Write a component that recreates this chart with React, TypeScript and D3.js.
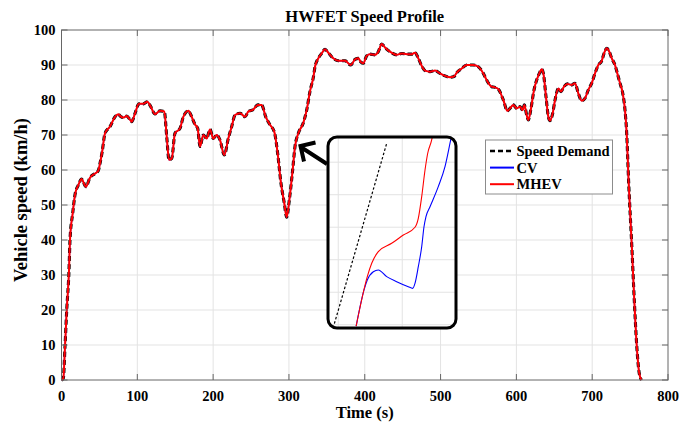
import React, { useEffect, useRef } from "react";
import * as d3 from "d3";

// HWFET speed profile (time s, speed km/h)
const timeS = [
  0, 2.4, 4.6, 6.9, 9.9, 11.2, 14.8, 17.8, 22.2, 26.6, 29, 32, 37.6, 44.2, 48.5, 50.8, 53.5, 57.4, 64,
  70.6, 74.9, 78, 81.5, 86, 90, 92.6, 97, 102.2, 108, 113.2, 117.7, 123.3, 130, 135.6, 138.8, 141.8,
  145.4, 149.7, 156.3, 160.7, 167.3, 171.7, 176.1, 179.6, 182.7, 187, 191.5, 195.9, 200.2, 204.7, 209,
  214.8, 220, 224.5, 228.9, 235.5, 242, 246.4, 253, 258.8, 264, 269.4, 275, 280.7, 285.1, 289.5, 293.9,
  297, 300.5, 304.9, 308, 312.4, 319, 323.4, 327.8, 332.2, 334.4, 338.7, 343.2, 347.6, 352, 358.5, 365.1,
  374, 381.5, 387.2, 391.5, 394.7, 398.1, 402.5, 406.9, 413.5, 417.9, 422.4, 426.7, 433.3, 442.2, 448.8,
  455.4, 462, 466.3, 470.7, 475.2, 479.5, 486.1, 492.7, 499.3, 505.9, 512.5, 517.7, 521.3, 527.9, 534.5,
  543.2, 549.8, 556.4, 560.8, 567.4, 571.8, 576.2, 582.8, 588.1, 591.6, 596, 600.4, 604.8, 608.3, 610.5,
  613.6, 615.8, 618.9, 623.3, 626.8, 630.3, 633.4, 635.6, 639.1, 642.2, 644.4, 647.9, 651, 655.4, 658.9,
  662.8, 667.2, 673, 677.3, 681.7, 686.2, 690.5, 694.9, 699.4, 703.7, 708.1, 712.6, 715.6, 719.2, 722.6,
  725.8, 730.1, 733.2, 736.7, 740.3, 743.3, 745.5, 748, 752.2, 755.6, 758.7, 762, 765,
];
const demandKmh = [
  0, 0.5, 9.5, 20, 31.4, 40, 47.7, 52.9, 55.7, 57.4, 56.5, 55.2, 57.8, 59, 59.8, 61.9, 65, 70.5, 72.4,
  75.2, 75.9, 75.3, 75, 75.4, 74.5, 73.8, 76.2, 78.9, 78.9, 79.5, 78.1, 76, 76.9, 76.7, 69.5, 62.9,
  63.3, 70.5, 71.9, 75.2, 76.9, 75.2, 73, 71.9, 66.7, 70, 69, 71.6, 69, 70, 68.6,
  64.3, 69, 72.4, 75.7, 76.2, 75.2, 76.7, 77.3, 78.6, 78.6, 75.2, 72.9, 70.9, 64.8, 56.2, 50.5,
  46.5, 51.4, 60, 66.7, 70.5, 73.5, 77.1, 82.5, 86.5, 89.5, 91.9, 93.3, 94.5, 93.5, 91.9, 91.2,
  91.2, 90, 91.6, 91.9, 90.9, 90.5, 92.6, 93.1, 92.9, 93.8, 96, 95, 93.8, 92.9, 93.3,
  93.1, 93.1, 93.5, 91.9, 89.7, 88.4, 88.1, 88.4, 87.6, 86.9, 86.5, 86.7, 87.8, 89, 90,
  90, 89.5, 87.6, 85.7, 83.8, 83.6, 83.1, 80, 76.9, 77.6, 78.6, 77.6, 78.1, 77.1, 78.6,
  75.7, 74.3, 77.1, 82.9, 85.7, 87.6, 88.8, 87.6, 80.9, 75.2, 74.1, 76.2, 80, 83.3, 82.4,
  83.8, 84.6, 84.3, 84.8, 81.9, 79.8, 80.5, 82.9, 84.8, 87.6, 90, 91.2, 93.3, 94.8, 93.8,
  91.9, 90, 87.6, 84.8, 81.9, 77.1, 70.5, 57, 38.5, 22.5, 10, 2, 0,
];
// at this scale the two vehicles follow the demand trace
const cvKmh = demandKmh;
const mhevKmh = demandKmh;

// zoomed detail shown in the inset
const insetDemandT = [300.92, 301.76];
const insetDemandV = [47.8, 59.2];
const insetCvT = [301.28, 301.403, 301.454, 301.548, 301.626, 301.757, 301.913, 302.095, 302.163, 302.199,
  302.251, 302.304, 302.34, 302.371, 302.434, 302.563, 302.668, 302.757, 302.79];
const insetCvV = [47.92, 50.14, 50.75, 51.26, 51.37, 50.96, 50.65, 50.34, 50.24, 50.55,
  51.57, 52.8, 54.03, 54.65, 55.26, 56.5, 57.73, 59.37, 59.98];
const insetMhevT = [301.28, 301.454, 301.523, 301.626, 301.835, 302.017, 302.199, 302.251, 302.304,
  302.356, 302.398, 302.46, 302.49];
const insetMhevV = [47.92, 50.96, 51.78, 52.5, 53.01, 53.52, 54.0, 54.55, 55.88, 57.52, 58.55, 59.37, 59.98];

const xTicks = [0, 100, 200, 300, 400, 500, 600, 700, 800];
const yTicks = [0, 10, 20, 30, 40, 50, 60, 70, 80, 90, 100];
const insetXTicks = [301, 302];
const insetYTicks = [48, 50, 52, 54, 56, 58];

const legendItems = [
  { label: "Speed Demand", color: "#000", dash: "5,3" },
  { label: "CV", color: "#0000ff", dash: null },
  { label: "MHEV", color: "#ff0000", dash: null },
];

const FONT = "'Liberation Serif', 'Times New Roman', serif";

const App = () => {
  const svgRef = useRef(null);

  useEffect(() => {
    const W = 694, H = 425;
    const left = 61.5, right = 668, top = 30, bottom = 380;
    const svg = d3.select(svgRef.current);
    svg.selectAll("*").remove();

    const x = d3.scaleLinear().domain([0, 800]).range([left, right]);
    const y = d3.scaleLinear().domain([0, 100]).range([bottom, top]);

    svg.append("rect").attr("width", W).attr("height", H).attr("fill", "#fff");

    // grid
    const grid = svg.append("g").attr("stroke", "#e3e3e3").attr("stroke-width", 1);
    xTicks.slice(1, -1).forEach((t) => {
      grid.append("line").attr("x1", x(t)).attr("x2", x(t)).attr("y1", top).attr("y2", bottom);
    });
    yTicks.slice(1, -1).forEach((v) => {
      grid.append("line").attr("x1", left).attr("x2", right).attr("y1", y(v)).attr("y2", y(v));
    });

    // traces: demand dashed underneath, vehicles on top
    const idx = d3.range(timeS.length);
    const mkLine = (vals) => d3.line().curve(d3.curveMonotoneX)
      .x((i) => x(timeS[i])).y((i) => y(vals[i]));
    svg.append("path").attr("d", mkLine(demandKmh)(idx)).attr("fill", "none")
      .attr("stroke", "#000").attr("stroke-width", 3.1).attr("stroke-dasharray", "5,3");
    svg.append("path").attr("d", mkLine(cvKmh)(idx)).attr("fill", "none")
      .attr("stroke", "#0000ff").attr("stroke-width", 1.3);
    svg.append("path").attr("d", mkLine(mhevKmh)(idx)).attr("fill", "none")
      .attr("stroke", "#ff0000").attr("stroke-width", 2).attr("stroke-linejoin", "round");

    // axes box + inward ticks
    const ax = svg.append("g").attr("stroke", "#666").attr("stroke-width", 1);
    ax.append("rect").attr("x", left).attr("y", top).attr("width", right - left)
      .attr("height", bottom - top).attr("fill", "none");
    xTicks.forEach((t) => {
      ax.append("line").attr("x1", x(t)).attr("x2", x(t)).attr("y1", bottom).attr("y2", bottom - 6);
      ax.append("line").attr("x1", x(t)).attr("x2", x(t)).attr("y1", top).attr("y2", top + 6);
    });
    yTicks.forEach((v) => {
      ax.append("line").attr("x1", left).attr("x2", left + 6).attr("y1", y(v)).attr("y2", y(v));
      ax.append("line").attr("x1", right).attr("x2", right - 6).attr("y1", y(v)).attr("y2", y(v));
    });

    // tick labels
    const txt = svg.append("g").attr("font-family", FONT).attr("font-weight", "bold").attr("fill", "#000");
    xTicks.forEach((t) => {
      txt.append("text").attr("x", x(t)).attr("y", 401).attr("text-anchor", "middle")
        .style("font-size", "14.5px").text(t);
    });
    yTicks.forEach((v) => {
      txt.append("text").attr("x", left - 6).attr("y", y(v) + 5).attr("text-anchor", "end")
        .style("font-size", "14.5px").text(v);
    });

    txt.append("text").attr("x", (left + right) / 2).attr("y", 22).attr("text-anchor", "middle")
      .style("font-size", "16.5px").text("HWFET Speed Profile");
    txt.append("text").attr("x", (left + right) / 2).attr("y", 418).attr("text-anchor", "middle")
      .style("font-size", "16.5px").text("Time (s)");
    txt.append("text").attr("transform", `translate(27,200) rotate(-90)`)
      .attr("text-anchor", "middle").style("font-size", "18.5px").text("Vehicle speed (km/h)");

    // inset
    const ix0 = 328, ix1 = 456, iy0 = 137, iy1 = 328;
    const ixs = d3.scaleLinear().domain([300.84, 302.84]).range([ix0, ix1]);
    const iys = d3.scaleLinear().domain([47.8, 59.55]).range([iy1, iy0]);
    svg.append("clipPath").attr("id", "insetClip").append("rect")
      .attr("x", ix0).attr("y", iy0).attr("width", ix1 - ix0).attr("height", iy1 - iy0).attr("rx", 9);
    const inset = svg.append("g");
    inset.append("rect").attr("x", ix0).attr("y", iy0).attr("width", ix1 - ix0)
      .attr("height", iy1 - iy0).attr("rx", 9).attr("fill", "#fff");
    const ig = inset.append("g").attr("clip-path", "url(#insetClip)");
    insetXTicks.forEach((t) => {
      ig.append("line").attr("x1", ixs(t)).attr("x2", ixs(t)).attr("y1", iy0).attr("y2", iy1)
        .attr("stroke", "#e3e3e3");
    });
    insetYTicks.forEach((v) => {
      ig.append("line").attr("x1", ix0).attr("x2", ix1).attr("y1", iys(v)).attr("y2", iys(v))
        .attr("stroke", "#e3e3e3");
    });
    const iline = (ts, vs) => d3.line().curve(d3.curveMonotoneX)
      .x((i) => ixs(ts[i])).y((i) => iys(vs[i]))(d3.range(ts.length));
    ig.append("path").attr("d", iline(insetDemandT, insetDemandV)).attr("fill", "none")
      .attr("stroke", "#000").attr("stroke-width", 1.2).attr("stroke-dasharray", "2.5,2");
    ig.append("path").attr("d", iline(insetCvT, insetCvV)).attr("fill", "none")
      .attr("stroke", "#0000ff").attr("stroke-width", 1.1);
    ig.append("path").attr("d", iline(insetMhevT, insetMhevV)).attr("fill", "none")
      .attr("stroke", "#ff0000").attr("stroke-width", 1.1);
    inset.append("rect").attr("x", ix0).attr("y", iy0).attr("width", ix1 - ix0)
      .attr("height", iy1 - iy0).attr("rx", 9).attr("fill", "none")
      .attr("stroke", "#000").attr("stroke-width", 3);

    // arrow pointing to the zoomed region
    svg.append("path")
      .attr("d", "M327,164 L301.5,147.5 M315.5,142.5 L300.5,146 L304,161.5")
      .attr("fill", "none").attr("stroke", "#000").attr("stroke-width", 4)
      .attr("stroke-linejoin", "miter").attr("stroke-linecap", "butt");

    // legend
    const lg = svg.append("g");
    lg.append("rect").attr("x", 485.5).attr("y", 140).attr("width", 127).attr("height", 54)
      .attr("fill", "#fff").attr("stroke", "#8c8c8c").attr("stroke-width", 1);
    legendItems.forEach((d, i) => {
      const cy = 151 + i * 16.6;
      const ln = lg.append("line").attr("x1", 490).attr("x2", 514).attr("y1", cy).attr("y2", cy)
        .attr("stroke", d.color).attr("stroke-width", 2);
      if (d.dash) ln.attr("stroke-dasharray", d.dash).attr("stroke-width", 2.5);
      lg.append("text").attr("x", 516.5).attr("y", cy + 5).attr("font-family", FONT)
        .attr("font-weight", "bold").style("font-size", "14.5px").text(d.label);
    });
  }, []);

  return (
    <svg ref={svgRef} width={694} height={425}
      style={{ position: "absolute", left: 0, top: 0, display: "block" }} />
  );
};

export default App;
